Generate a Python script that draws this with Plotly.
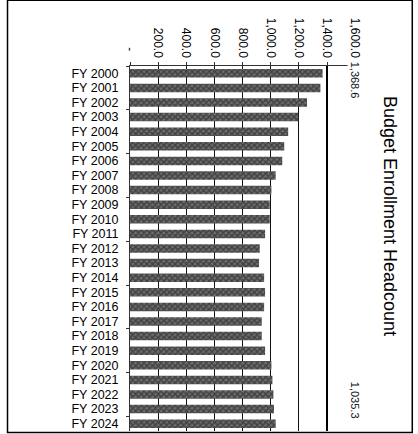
import plotly.graph_objects as go

years = [f"FY {y}" for y in range(2000, 2025)]
headcount = [1368.6, 1353, 1258, 1195, 1124, 1096, 1082, 1035, 1005, 993, 993, 960,
             922, 917, 953, 960, 953, 936, 936, 960, 1005, 1012, 1019, 1023, 1035.3]
tick_vals = [0, 200, 400, 600, 800, 1000, 1200, 1400, 1600]
tick_text = [" -  ", "200.0", "400.0", "600.0", "800.0", "1,000.0", "1,200.0", "1,400.0", "1,600.0"]
title_text = "Budget Enrollment Headcount"
first_label = "1,368.6"
last_label = "1,035.3"

fig = go.Figure()
fig.add_trace(go.Bar(
    x=headcount, y=years, orientation="h",
    marker=dict(color="#6e6e6e", line=dict(width=0),
                pattern=dict(shape="x", fgcolor="#111111", size=4, solidity=0.6)),
    showlegend=False, hoverinfo="x+y",
))
# invisible trace to carry category-group tick marks
fig.add_trace(go.Scatter(x=[0], y=[0], yaxis="y2", mode="markers",
                         marker=dict(opacity=0), showlegend=False, hoverinfo="skip"))

font = "Liberation Sans, Arial, sans-serif"
fig.update_layout(
    width=418, height=434,
    margin=dict(l=130, r=62, t=66, b=3),
    paper_bgcolor="white", plot_bgcolor="white",
    bargap=0.42,
    font=dict(family=font, color="#111111"),
    xaxis=dict(side="top", range=[0, 1606], tickvals=tick_vals, ticktext=tick_text,
               tickangle=90, tickfont=dict(size=12, color="#000"),
               showgrid=True, gridcolor="#111", gridwidth=1,
               showline=True, linecolor="#333", linewidth=1,
               ticks="outside", ticklen=3, tickcolor="#333", zeroline=False,
               fixedrange=True),
    yaxis=dict(autorange="reversed", tickmode="array", tickvals=years, ticktext=years,
               tickfont=dict(size=12.5, color="#000"),
               showline=True, linecolor="#333", linewidth=1, ticks="",
               ticklabelstandoff=8, fixedrange=True),
    yaxis2=dict(overlaying="y", range=[24.5, -0.5], side="left",
                tickvals=[-0.5, 2.5, 5.5, 8.5, 11.5, 14.5, 17.5, 20.5, 23.5],
                showticklabels=False, ticks="outside", ticklen=3, tickcolor="#333",
                showgrid=False, zeroline=False, showline=False, fixedrange=True),
    shapes=[
        dict(type="line", xref="x", yref="paper", x0=1400, x1=1400, y0=0, y1=1,
             line=dict(color="black", width=2)),
        dict(type="rect", xref="paper", yref="paper", x0=-0.542, x1=1.249,
             y0=-0.004, y1=1.18, line=dict(color="black", width=1.5)),
    ],
    annotations=[
        dict(text=title_text, xref="paper", yref="paper", x=1.151, y=0.589,
             xanchor="center", yanchor="middle",
             textangle=90, showarrow=False, font=dict(size=18, color="#000")),
        dict(text=first_label, xref="x", yref="paper", x=1600, y=0.962,
             xanchor="center", yanchor="middle",
             textangle=90, showarrow=False, bgcolor="white",
             font=dict(size=11, color="#111")),
        dict(text=last_label, xref="x", yref="paper", x=1600, y=0.085,
             xanchor="center", yanchor="middle",
             textangle=90, showarrow=False, bgcolor="white",
             font=dict(size=11, color="#111")),
    ],
)

fig.write_html("out.html", config={"displayModeBar": False},
               post_script="document.body.style.margin='0';document.body.style.overflow='hidden';")
